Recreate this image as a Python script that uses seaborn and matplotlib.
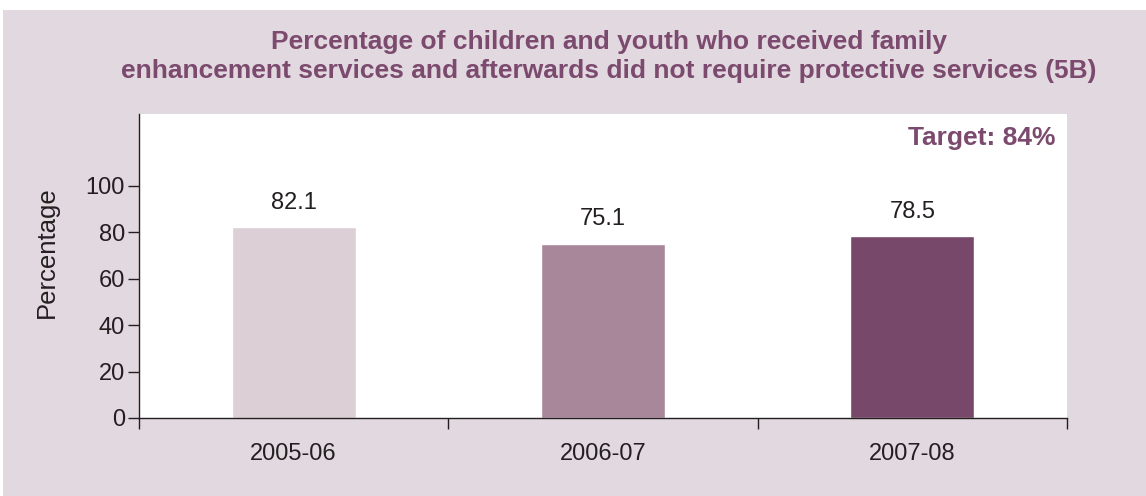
import numpy as np
import matplotlib.pyplot as plt
import pandas as pd
import seaborn as sns
from matplotlib.patches import Rectangle

years = ['2005-06', '2006-07', '2007-08']
values = [82.1, 75.1, 78.5]
bar_colors = ['#dccfd6', '#a8879b', '#78486a']
yticks = [0, 20, 40, 60, 80, 100]

df = pd.DataFrame({'year': years, 'pct': values})

sns.set_style('white')
plt.rcParams['font.family'] = ['Liberation Sans', 'DejaVu Sans']

fig = plt.figure(figsize=(11.46, 4.96), dpi=100, facecolor='white')
# pinkish panel behind everything
fig.patches.append(Rectangle((3 / 1146, 0), 1 - 3 / 1146, 1 - 10 / 496,
                             transform=fig.transFigure, facecolor='#e2d8df',
                             edgecolor='none', zorder=-5))

ax = fig.add_axes([139 / 1146, 78 / 496, 928 / 1146, 304 / 496])
ax.set_facecolor('white')
ax.set_zorder(2)

sns.barplot(data=df, x='year', y='pct', hue='year', palette=bar_colors,
            width=0.4, legend=False, ax=ax, saturation=1)

for i, v in enumerate(values):
    ax.text(i, v + 5.7, f'{v:.1f}', ha='center', va='bottom', fontsize=17, color='#231f20')

ax.set_xlim(-0.5, 2.5)
ax.set_ylim(0, 131)
ax.set_yticks(yticks)
ax.set_yticklabels([str(t) for t in yticks], fontsize=17, color='#231f20')
ax.set_xticks(range(len(years)))
ax.set_xticklabels(years, fontsize=17, color='#231f20')
ax.set_xticks([-0.5, 0.5, 1.5, 2.5], minor=True)
ax.tick_params(axis='x', which='major', bottom=False, length=0, pad=18)
ax.tick_params(axis='x', which='minor', bottom=True, length=8, direction='out',
               color='#231f20', width=1)
ax.tick_params(axis='y', left=True, length=8, direction='out', color='#231f20',
               width=1, pad=2)

ax.set_xlabel('')
ax.set_ylabel('Percentage', fontsize=18.5, color='#231f20')
ax.yaxis.set_label_coords(-0.086, 0.546)

for s in ['top', 'right']:
    ax.spines[s].set_visible(False)
for s in ['left', 'bottom']:
    ax.spines[s].set_color('#231f20')
    ax.spines[s].set_linewidth(1)

ax.text(0.988, 0.962, 'Target: 84%', transform=ax.transAxes, ha='right', va='top',
        fontsize=19, fontweight='bold', color='#7b4a6e')

fig.text(0.531, 0.94, 'Percentage of children and youth who received family\n'
         'enhancement services and afterwards did not require protective services (5B)',
         ha='center', va='top', fontsize=19, fontweight='bold', color='#7b4a6e',
         linespacing=1.25)

fig.savefig('out.png', dpi=100, facecolor=fig.get_facecolor())
